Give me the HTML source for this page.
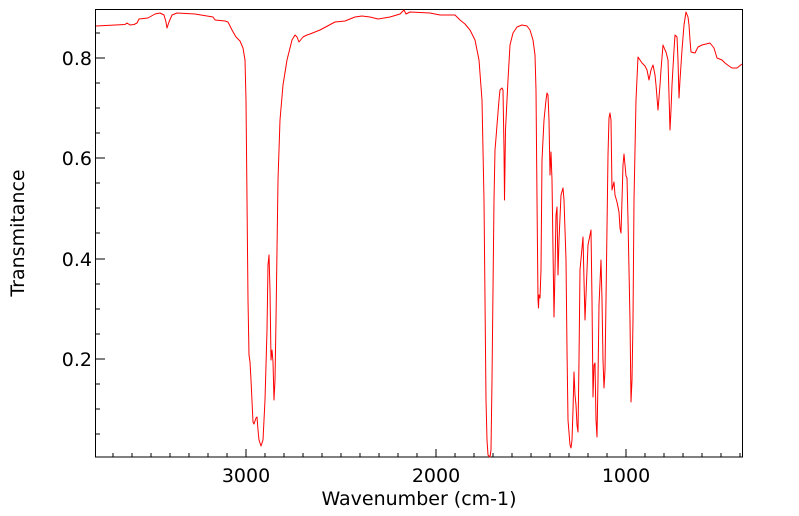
<!DOCTYPE html>
<html><head><style>body{margin:0;background:#fff}svg{display:block}text{font-family:"DejaVu Sans","Liberation Sans",sans-serif;fill:#000}</style></head>
<body>
<svg width="799" height="516" viewBox="0 0 799 516" xmlns="http://www.w3.org/2000/svg">
<rect x="0" y="0" width="799" height="516" fill="#fff"/>
<g stroke="#000" stroke-width="1">
<path d="M95,58h10M95,158h10M95,259h10M95,359h10"/>
<path d="M95,33h5M95,83h5M95,108h5M95,133h5M95,183h5M95,208h5M95,233h5M95,284h5M95,309h5M95,334h5M95,384h5M95,409h5M95,434h5"/>
<path d="M246,457v-8M436,457v-8M626,457v-8"/>
<path d="M113,457v-4M132,457v-4M151,457v-4M170,457v-4M189,457v-4M208,457v-4M227,457v-4M265,457v-4M284,457v-4M303,457v-4M322,457v-4M341,457v-4M360,457v-4M379,457v-4M398,457v-4M417,457v-4M455,457v-4M474,457v-4M493,457v-4M512,457v-4M531,457v-4M550,457v-4M569,457v-4M588,457v-4M607,457v-4M645,457v-4M664,457v-4M683,457v-4M702,457v-4M721,457v-4M740,457v-4"/>
</g>
<rect x="95.5" y="9.5" width="647" height="447.5" fill="none" stroke="#000" stroke-width="1"/>
<g font-size="19" text-anchor="end">
<text x="92" y="65">0.8</text><text x="92" y="165">0.6</text><text x="92" y="266">0.4</text><text x="92" y="366">0.2</text>
</g>
<g font-size="19" text-anchor="middle">
<text x="246" y="482">3000</text><text x="436" y="482">2000</text><text x="626" y="482">1000</text>
<text x="419" y="505">Wavenumber (cm-1)</text>
<text transform="translate(24,233) rotate(-90)">Transmitance</text>
</g>
<polyline fill="none" stroke="#f00" stroke-width="1" stroke-linejoin="round" points="96,26 125,24.5 127,23 130,25 134,24.5 137,23 139,19 148,18 155,14 160,13 164,15 166,22 167,28 169,22 172,15 177,13 195,14 213,17 215,20 225,21 228,22 232,30 236,37 240,41 243,48 245,60 246,100 247,200 248,300 249,355 250,362 251,380 253,422 254,424 256,418 257,417 258,430 259,440 261,446 263,440 265,400 267,330 268,265 269,255 270,290 271,360 272,350 273,362 274,400 275,380 276,320 277,250 278,180 280,120 283,85 287,60 292,40 295,35 297,37 299,42 303,37 307,35 310,34 320,30 335,22 345,21 355,17 362,16 370,17 378,19 390,17 400,14 404,10 406,14 410,12 430,13 440,15 455,15 460,20 465,24 470,30 475,40 479,60 482,100 484,200 485,300 486,400 487,440 488,455 490,457 491,450 492,380 494,200 495,150 496,138 497,125 499,100 500,90 502,88 503,90 504,150 504.5,200 505.5,130 508,80 510,45 513,33 517,27 522,25 527,26 530,30 533,40 535,55 536,90 537,200 538,300 538.5,308 539,295 540,298 541,270 542,160 544,120 546,100 547,93 548,95 549,120 550,175 551,152 552,180 553,250 554,317 555,270 556,215 557,207 558,275 559,240 561,195 563,188 564,200 566,260 567,350 568,420 570,445 571,448 572,440 573,410 574,372 575,395 576,405 577,425 578,432 579,360 580,270 583,237 584,280 585,320 586,295 588,245 591,230 592,300 593,397 594,365 595,363 596,420 597,437 598,380 599,305 601,260 602,300 603,360 604,388 605,370 606,300 608,155 609,118 610,113 611,120 612,190 613,186 614,182 615,195 617,202 619,212 620,228 621,233 622,200 623,165 624,154 625,165 626,176 627,178 628,220 630,320 631,402 632,380 633,320 634,200 636,100 638,57 640,60 642,63 645,66 647,70 649,80 651,70 653,65 655,75 656,85 658,110 660,85 661,70 663,45 665,50 666,52 668,60 670,130 671,110 672,85 674,50 675,35 677,37 678,60 679,98 680,80 682,50 684,25 686,12 688,17 689,25 690,40 691,52 695,53 698,47 702,45 710,43 714,48 717,58 722,60 725,63 729,66 732,68 737,68 742,64"/>
</svg>
</body></html>
